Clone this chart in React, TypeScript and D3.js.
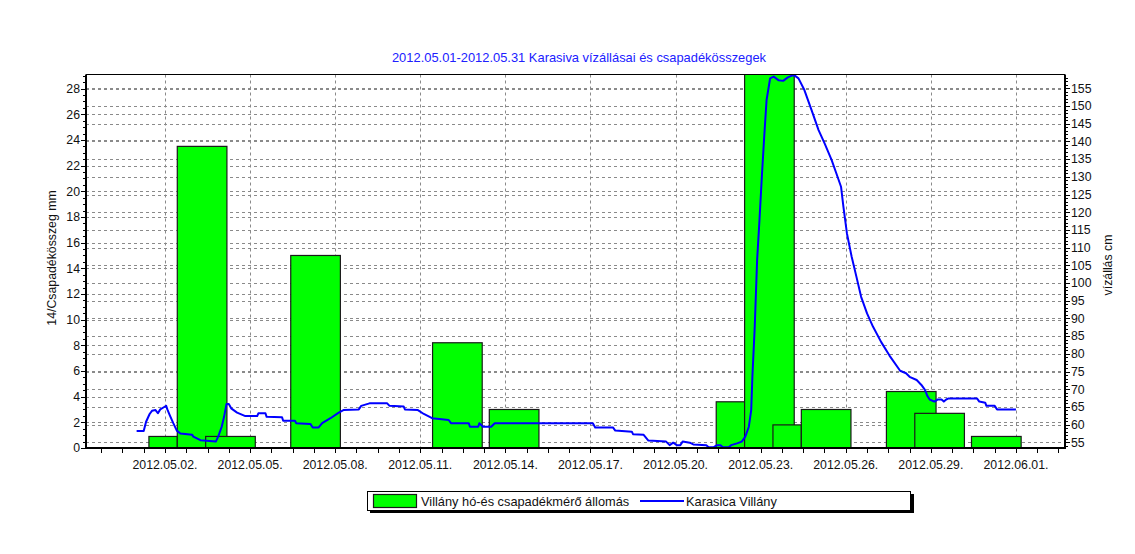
import { useRef, useEffect } from "react";
import * as d3 from "d3";

// daily precipitation (mm) at Villány, start day + period length
const rainDays = ["2012-05-01", "2012-05-02", "2012-05-03", "2012-05-06", "2012-05-11", "2012-05-13", "2012-05-21", "2012-05-22", "2012-05-23", "2012-05-24", "2012-05-27", "2012-05-28", "2012-05-30"];
const rainSpanHours = [24, 42, 42, 42, 42, 42, 24, 42, 24, 42, 42, 42, 42];
const rainMm = [0.9, 23.5, 0.9, 15.0, 8.2, 3.0, 3.6, 35, 1.8, 3.0, 4.4, 2.7, 0.9];

// water level (cm) at Karasica Villány, hours since 2012-05-01 00:00
const levelHours = [0, 6, 8, 11, 13, 16, 18, 20, 23, 25, 26, 28, 31, 34, 37, 47, 48, 54, 67, 69, 72, 74, 76, 78, 80, 85, 92, 102, 103, 109, 110, 123, 124, 134, 135, 147, 149, 154, 157, 164, 171, 175, 188, 190, 197, 212, 214, 226, 227, 238, 243, 250, 264, 266, 281, 282, 289, 290, 293, 300, 303, 386, 388, 403, 405, 419, 420, 429, 433, 448, 451, 454, 457, 460, 462, 468, 471, 482, 484, 488, 491, 494, 496, 501, 503, 508, 512, 515, 518, 520, 521, 523, 525, 527, 529, 531, 533, 536, 539, 543, 547, 551, 556, 560, 565, 571, 577, 582, 588, 592, 596, 598, 601, 605, 609, 613, 618, 623, 630, 637, 646, 651, 654, 660, 664, 667, 669, 671, 675, 678, 681, 683, 685, 687, 711, 713, 718, 719, 726, 728, 744];
const levelCm = [58.2, 58.2, 60.8, 63.0, 63.9, 64.1, 63.2, 64.3, 64.9, 65.3, 64.3, 62.7, 60.4, 58.3, 57.5, 57.1, 56.6, 55.6, 55.2, 56.6, 59.4, 62.2, 65.8, 65.8, 64.6, 63.4, 62.4, 62.4, 63.2, 63.2, 62.2, 62.1, 61.1, 61.1, 60.4, 60.2, 59.2, 59.2, 60.4, 61.8, 63.4, 64.1, 64.3, 65.3, 66.0, 66.0, 65.3, 65.1, 64.3, 64.1, 63.0, 61.8, 61.3, 60.4, 60.4, 59.4, 59.4, 60.4, 59.4, 59.4, 60.4, 60.4, 59.2, 59.2, 58.3, 58.0, 57.3, 57.1, 55.5, 55.2, 54.2, 54.9, 54.2, 54.2, 55.2, 54.9, 54.4, 54.2, 53.6, 53.6, 54.2, 54.2, 53.6, 53.6, 54.2, 54.7, 55.2, 56.6, 59.4, 64.1, 73.5, 87.7, 106.5, 117.8, 130.0, 141.3, 151.7, 157.8, 158.3, 157.3, 157.1, 158.1, 158.8, 157.8, 154.5, 148.9, 143.2, 139.5, 134.8, 131.0, 127.2, 121.6, 114.0, 107.4, 101.8, 96.1, 91.4, 87.7, 83.3, 79.5, 75.2, 74.5, 73.5, 72.6, 71.2, 69.8, 68.1, 67.1, 66.5, 67.1, 67.1, 66.5, 67.1, 67.4, 67.4, 66.5, 66.2, 65.3, 65.3, 64.3, 64.3];

const leftTicks = d3.range(0, 29, 2);
const rightTicks = d3.range(55, 156, 5);
const dateTicks = ["2012-05-02", "2012-05-05", "2012-05-08", "2012-05-11", "2012-05-14", "2012-05-17", "2012-05-20", "2012-05-23", "2012-05-26", "2012-05-29", "2012-06-01"];

const TITLE = "2012.05.01-2012.05.31 Karasiva vízállásai és csapadékösszegek";
const LEFT_TITLE = "14/Csapadékösszeg mm";
const RIGHT_TITLE = "vízállás cm";
const RAIN_NAME = "Villány hó-és csapadékmérő állomás";
const LEVEL_NAME = "Karasica Villány";

const FONT = "'Liberation Sans', Arial, sans-serif";
const HOUR = 3600 * 1000;

export default function App() {
  const svgRef = useRef<SVGSVGElement>(null);

  useEffect(() => {
    if (!svgRef.current) return;
    const svg = d3.select(svgRef.current);
    svg.selectAll("*").remove();

    const plot = { left: 86, right: 1065, top: 74.5, bottom: 448 };
    const parse = d3.timeParse("%Y-%m-%d");
    const t0 = new Date(2012, 4, 1);

    const x = d3
      .scaleTime()
      .domain([new Date(2012, 3, 29, 5, 10), new Date(2012, 5, 2, 17, 30)])
      .range([plot.left, plot.right]);
    const yL = d3.scaleLinear().domain([0, 29.1]).range([plot.bottom, plot.top]);
    const yR = d3.scaleLinear().domain([53.39, 158.9]).range([plot.bottom, plot.top]);

    svg.append("rect").attr("width", 1135).attr("height", 554).attr("fill", "#fff");

    svg
      .append("defs")
      .append("clipPath")
      .attr("id", "plotClip")
      .append("rect")
      .attr("x", plot.left)
      .attr("y", plot.top)
      .attr("width", plot.right - plot.left)
      .attr("height", plot.bottom - plot.top);

    // Title
    svg
      .append("text")
      .attr("x", 579)
      .attr("y", 62)
      .attr("text-anchor", "middle")
      .attr("font-family", FONT)
      .attr("font-size", 12.9)
      .attr("fill", "#2020ff")
      .text(TITLE);

    // Grid
    const majorDates = dateTicks.map((d) => parse(d)!);
    const grid = svg.append("g").attr("stroke", "#8a8a8a").attr("stroke-width", 1).attr("stroke-dasharray", "3,3");
    leftTicks.slice(1).forEach((v) => {
      const yy = Math.round(yL(v)) + 0.5;
      grid.append("line").attr("x1", plot.left).attr("x2", plot.right).attr("y1", yy).attr("y2", yy);
    });
    rightTicks.forEach((v) => {
      const yy = Math.round(yR(v)) + 0.5;
      grid.append("line").attr("x1", plot.left).attr("x2", plot.right).attr("y1", yy).attr("y2", yy);
    });
    majorDates.forEach((d) => {
      const xx = Math.round(x(d)) + 0.5;
      grid.append("line").attr("x1", xx).attr("x2", xx).attr("y1", plot.top).attr("y2", plot.bottom);
    });

    const clipped = svg.append("g").attr("clip-path", "url(#plotClip)");

    // Bars
    const BAR_OFFSET_H = 10.4;
    rainDays.forEach((day, i) => {
      const start = new Date(parse(day)!.getTime() + BAR_OFFSET_H * HOUR);
      const end = new Date(start.getTime() + rainSpanHours[i] * HOUR);
      clipped
        .append("rect")
        .attr("x", x(start))
        .attr("y", yL(rainMm[i]))
        .attr("width", x(end) - x(start))
        .attr("height", yL(0) - yL(rainMm[i]))
        .attr("fill", "#00ff00")
        .attr("stroke", "#1a1a1a")
        .attr("stroke-width", 1.2);
    });

    // Water level line
    const pts = levelHours.map((h, i) => [new Date(t0.getTime() + h * HOUR), levelCm[i]] as [Date, number]);
    const line = d3
      .line<[Date, number]>()
      .x((d) => x(d[0]))
      .y((d) => yR(d[1]));
    clipped
      .append("path")
      .datum(pts)
      .attr("d", line)
      .attr("fill", "none")
      .attr("stroke", "#0000ff")
      .attr("stroke-width", 2)
      .attr("stroke-linejoin", "round");

    // Frame
    svg
      .append("line")
      .attr("x1", plot.left)
      .attr("x2", plot.right)
      .attr("y1", plot.top)
      .attr("y2", plot.top)
      .attr("stroke", "#000")
      .attr("stroke-width", 1.2);
    const frame = svg.append("g").attr("stroke", "#000").attr("stroke-width", 2);
    frame.append("line").attr("x1", plot.left).attr("x2", plot.left).attr("y1", plot.top).attr("y2", plot.bottom + 1);
    frame.append("line").attr("x1", plot.right).attr("x2", plot.right).attr("y1", plot.top).attr("y2", plot.bottom + 1);
    frame.append("line").attr("x1", plot.left - 1).attr("x2", plot.right + 1).attr("y1", plot.bottom).attr("y2", plot.bottom);

    // Ticks
    const ticks = svg.append("g").attr("stroke", "#000").attr("stroke-width", 1);
    d3.range(0, 29.01, 0.5).forEach((v) => {
      const yy = Math.round(yL(v)) + 0.5;
      const major = v % 2 === 0;
      ticks.append("line").attr("x1", plot.left - (major ? 5 : 3)).attr("x2", plot.left).attr("y1", yy).attr("y2", yy);
    });
    d3.range(54, 159, 1).forEach((v) => {
      const yy = Math.round(yR(v)) + 0.5;
      const major = v % 5 === 0;
      ticks.append("line").attr("x1", plot.right).attr("x2", plot.right + (major ? 5 : 3)).attr("y1", yy).attr("y2", yy);
    });
    const minorStart = new Date(2012, 3, 29, 18);
    d3.range(minorStart.getTime(), x.domain()[1].getTime(), 18 * HOUR).forEach((t) => {
      const xx = Math.round(x(new Date(t))) + 0.5;
      ticks.append("line").attr("x1", xx).attr("x2", xx).attr("y1", plot.bottom).attr("y2", plot.bottom + 5);
    });

    // Tick labels
    const labels = svg.append("g").attr("font-family", FONT).attr("font-size", 12.3).attr("fill", "#111");
    leftTicks.forEach((v) => {
      labels
        .append("text")
        .attr("x", plot.left - 6)
        .attr("y", yL(v))
        .attr("dy", "0.35em")
        .attr("text-anchor", "end")
        .text(v);
    });
    rightTicks.forEach((v) => {
      labels
        .append("text")
        .attr("x", plot.right + 6)
        .attr("y", yR(v))
        .attr("dy", "0.35em")
        .text(v);
    });
    const fmt = d3.timeFormat("%Y.%m.%d.");
    majorDates.forEach((d) => {
      labels
        .append("text")
        .attr("x", x(d))
        .attr("y", 469)
        .attr("text-anchor", "middle")
        .text(fmt(d));
    });

    // Axis titles
    labels
      .append("text")
      .attr("transform", "translate(56,258) rotate(-90)")
      .attr("text-anchor", "middle")
      .text(LEFT_TITLE);
    labels
      .append("text")
      .attr("transform", "translate(1112,265) rotate(-90)")
      .attr("text-anchor", "middle")
      .text(RIGHT_TITLE);

    // Legend
    const lg = svg.append("g").attr("font-family", FONT).attr("font-size", 12.8);
    lg.append("rect").attr("x", 370).attr("y", 494).attr("width", 544).attr("height", 19).attr("fill", "#000");
    lg.append("rect").attr("x", 367.5).attr("y", 491.5).attr("width", 543).attr("height", 19).attr("fill", "#fff").attr("stroke", "#000");
    lg.append("rect").attr("x", 373.5).attr("y", 494.5).attr("width", 43).attr("height", 13).attr("fill", "#00ff00").attr("stroke", "#1a1a1a").attr("stroke-width", 1.2);
    lg.append("text").attr("x", 421).attr("y", 505.5).attr("fill", "#111").text(RAIN_NAME);
    lg.append("line").attr("x1", 640).attr("x2", 684).attr("y1", 501).attr("y2", 501).attr("stroke", "#0000ff").attr("stroke-width", 2);
    lg.append("text").attr("x", 686).attr("y", 505.5).attr("fill", "#111").text(LEVEL_NAME);
  }, []);

  return (
    <svg
      ref={svgRef}
      width={1135}
      height={554}
      style={{ position: "absolute", left: 0, top: 0 }}
    />
  );
}
